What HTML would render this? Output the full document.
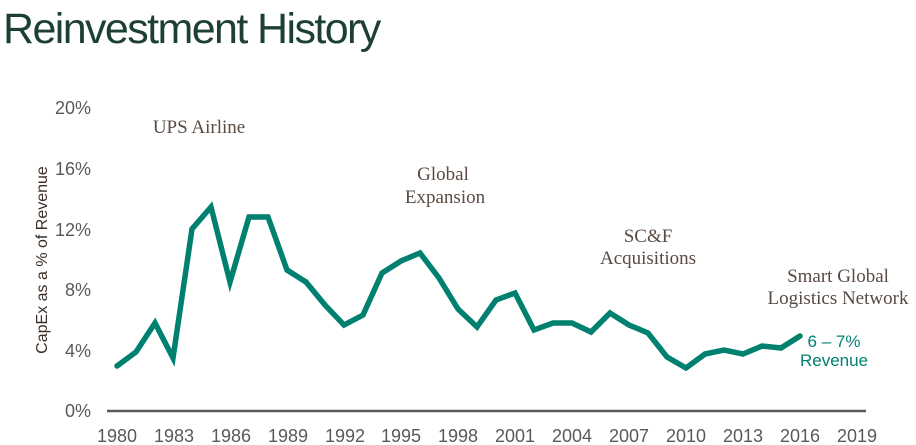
<!DOCTYPE html>
<html><head><meta charset="utf-8"><style>
body{margin:0;background:#fff;width:916px;height:445px;overflow:hidden}
svg{display:block}
</style></head><body>
<svg width="916" height="445" viewBox="0 0 916 445" xmlns="http://www.w3.org/2000/svg">
<text x="3" y="43" font-family="Liberation Sans, sans-serif" font-size="43" fill="#1d3f34" letter-spacing="-1.6">Reinvestment History</text>
<g font-family="Liberation Sans, sans-serif" font-size="18" fill="#595959" text-anchor="end">
<text x="91" y="114">20%</text><text x="91" y="175">16%</text><text x="91" y="236">12%</text>
<text x="91" y="296">8%</text><text x="91" y="357">4%</text><text x="91" y="417">0%</text>
</g>
<text transform="translate(47,260) rotate(-90)" font-family="Liberation Sans, sans-serif" font-size="16" fill="#3a2e28" text-anchor="middle">CapEx as a % of Revenue</text>
<line x1="107" y1="411" x2="866" y2="411" stroke="#595959" stroke-width="2.5"/>
<g font-family="Liberation Sans, sans-serif" font-size="18" fill="#595959" text-anchor="middle">
<text x="117" y="442">1980</text><text x="174" y="442">1983</text><text x="231" y="442">1986</text>
<text x="288" y="442">1989</text><text x="345" y="442">1992</text><text x="401" y="442">1995</text>
<text x="458" y="442">1998</text><text x="515" y="442">2001</text><text x="572" y="442">2004</text>
<text x="629" y="442">2007</text><text x="686" y="442">2010</text><text x="743" y="442">2013</text>
<text x="800" y="442">2016</text><text x="857" y="442">2019</text>
</g>
<polyline fill="none" stroke="#00806f" stroke-width="5.5" stroke-linejoin="miter" stroke-linecap="round" points="
117,366 136,352 155,323 173,358 192,229 211,207 230,282 249,217 268,217 287,270 306,282 325,305 344,325 363,315 382,273 401,261 420,253 439,278 458,309 477,327 496,300 515,293 534,330 553,323 572,323 591,332 610,313 629,325 648,333 667,357 686,368 705,354 724,350 743,354 762,346 781,348 800,336"/>
<g font-family="Liberation Serif, serif" font-size="19" fill="#5a4a42" text-anchor="middle">
<text x="199" y="133">UPS Airline</text>
<text x="443" y="180">Global</text><text x="445" y="203">Expansion</text>
<text x="648" y="242">SC&amp;F</text><text x="648" y="264">Acquisitions</text>
<text x="838" y="282">Smart Global</text><text x="838" y="304">Logistics Network</text>
</g>
<g font-family="Liberation Sans, sans-serif" font-size="17" fill="#00806f" text-anchor="middle">
<text x="834" y="347">6 – 7%</text><text x="834" y="366">Revenue</text>
</g>
</svg>
</body></html>
